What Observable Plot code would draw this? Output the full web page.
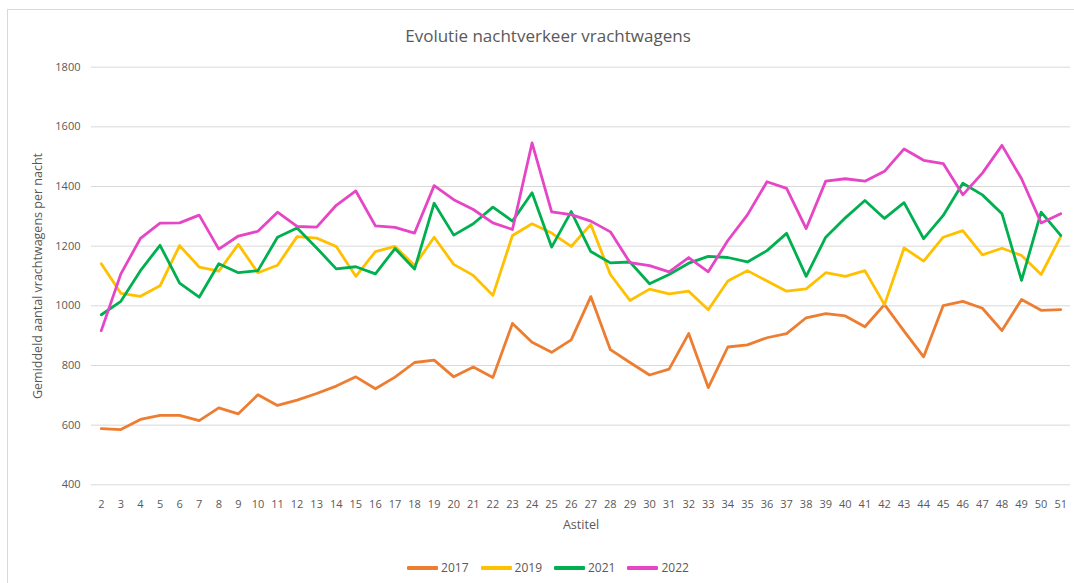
<!DOCTYPE html>
<html>
<head>
<meta charset="utf-8">
<script src="https://cdn.jsdelivr.net/npm/d3@7"></script>
<script src="https://cdn.jsdelivr.net/npm/@observablehq/plot@0.6"></script>
<style>
  html, body { margin: 0; padding: 0; background: #fff; }
  body { width: 1074px; height: 583px; overflow: hidden; position: relative; font-family: "Open Sans", sans-serif; color: #595959; }
  #frame { position: absolute; left: 7px; top: 9px; width: 1100px; height: 600px; border-left: 1px solid #d9d9d9; border-top: 1px solid #d9d9d9; pointer-events: none; }
  #title { height: 50px; box-sizing: border-box; padding-top: 24px; padding-left: 22px; line-height: 24px; font-size: 17px; text-align: center; }
  #chart { height: 490px; }
  #chart svg { display: block; }
  #legend { height: 43px; box-sizing: border-box; padding-top: 12px; padding-left: 22px; display: flex; justify-content: center; align-items: center; font-size: 12px; line-height: 16px; }
  .item { display: flex; align-items: center; margin: 0 6px; }
  .sw { width: 31px; height: 4px; border-radius: 1px; margin-right: 3px; }
</style>
</head>
<body>
<div id="frame"></div>
<div id="title">Evolutie nachtverkeer vrachtwagens</div>
<div id="chart"></div>
<div id="legend"></div>
<script>
const weeks = [2,3,4,5,6,7,8,9,10,11,12,13,14,15,16,17,18,19,20,21,22,23,24,25,26,27,28,29,30,31,32,33,34,35,36,37,38,39,40,41,42,43,44,45,46,47,48,49,50,51];
const yTicks = [400,600,800,1000,1200,1400,1600,1800];
const years = ["2017","2019","2021","2022"];
const colors = ["#ED7D31","#FFC000","#00B050","#E645C6"];

const v2017 = [588,585,619,633,633,615,658,638,702,666,684,706,731,762,722,761,810,818,762,795,760,941,878,844,886,1031,853,810,768,788,907,726,862,869,893,907,960,974,966,930,1004,915,829,1001,1015,992,917,1021,985,987];
const v2019 = [1141,1042,1032,1067,1202,1130,1116,1206,1111,1136,1232,1227,1199,1099,1182,1199,1135,1230,1139,1102,1035,1236,1275,1244,1199,1273,1105,1018,1056,1040,1049,987,1083,1118,1083,1049,1057,1111,1099,1118,1004,1194,1150,1230,1252,1171,1193,1169,1105,1232];
const v2021 = [970,1015,1118,1203,1076,1029,1141,1111,1118,1230,1261,1194,1124,1131,1107,1192,1123,1344,1237,1275,1331,1284,1379,1197,1316,1182,1144,1147,1074,1105,1143,1166,1162,1147,1185,1243,1099,1230,1295,1353,1293,1346,1225,1303,1411,1372,1309,1085,1314,1236];
const v2022 = [917,1107,1226,1277,1278,1304,1190,1234,1250,1314,1266,1264,1337,1385,1268,1263,1244,1403,1356,1323,1278,1256,1546,1315,1306,1284,1248,1145,1135,1114,1162,1114,1219,1305,1416,1394,1259,1418,1426,1418,1451,1526,1488,1477,1372,1445,1538,1426,1278,1309];

const yLabel = "Gemiddeld aantal vrachtwagens per nacht";
const xLabel = "Astitel";

const series = [v2017, v2019, v2021, v2022];
const data = years.flatMap((yr, i) => weeks.map((w, j) => ({year: yr, week: w, value: series[i][j]})));

const chart = Plot.plot({
  width: 1074,
  height: 490,
  marginLeft: 91,
  marginRight: 4,
  marginTop: 16.7,
  marginBottom: 55.7,
  style: {fontFamily: "Open Sans, sans-serif", fontSize: "11px", color: "#595959", background: "white"},
  x: {type: "linear", domain: [weeks[0] - 0.5, weeks[weeks.length - 1] + 0.5], label: null},
  y: {domain: [400, 1800], label: null},
  color: {domain: years, range: colors},
  marks: [
    Plot.gridY(yTicks, {stroke: "#d9d9d9", strokeOpacity: 1, strokeWidth: 1}),
    Plot.axisY(yTicks, {tickSize: 0, tickPadding: 11, tickFormat: d => String(d), label: null}),
    Plot.axisX(weeks, {tickSize: 0, tickPadding: 15, tickFormat: d => String(d), label: null}),
    Plot.line(data, {x: "week", y: "value", z: "year", stroke: "year", strokeWidth: 2.8, strokeLinejoin: "round", strokeLinecap: "round"}),
    Plot.text([yLabel], {text: d => d, frameAnchor: "left", textAnchor: "middle", dx: -54, rotate: -90, fontSize: 12.5}),
    Plot.text([xLabel], {text: d => d, frameAnchor: "bottom", dy: 44, fontSize: 12.5})
  ]
});
document.getElementById("chart").appendChild(chart);

const legend = document.getElementById("legend");
years.forEach((yr, i) => {
  const item = document.createElement("div");
  item.className = "item";
  const sw = document.createElement("span");
  sw.className = "sw";
  sw.style.background = colors[i];
  const t = document.createElement("span");
  t.textContent = yr;
  item.appendChild(sw);
  item.appendChild(t);
  legend.appendChild(item);
});
</script>
</body>
</html>
